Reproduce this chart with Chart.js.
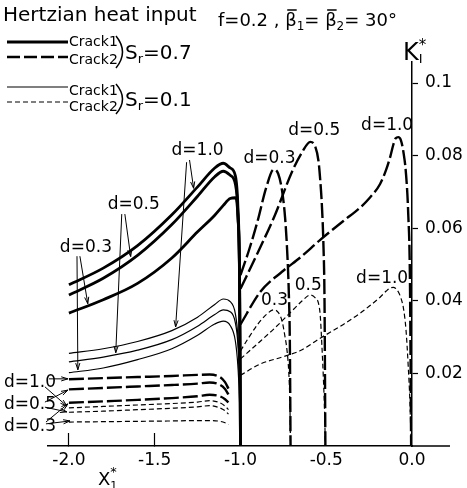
<!DOCTYPE html>
<html>
<head>
<meta charset="utf-8">
<script src="https://cdn.jsdelivr.net/npm/chart.js@4.4.1/dist/chart.umd.min.js"></script>
<style>
  html, body { margin: 0; padding: 0; background: #fff; }
  canvas { display: block; }
</style>
</head>
<body>
<canvas id="kChart" width="467" height="488"></canvas>
<script>
// axis ticks
const xTicks = [-2.0, -1.5, -1.0, -0.5, 0.0];
const xTickLabels = ['-2.0', '-1.5', '-1.0', '-0.5', '0.0'];
const yTicks = [0.02, 0.04, 0.06, 0.08, 0.1];
const yTickLabels = ['0.02', '0.04', '0.06', '0.08', '0.1'];

// Crack 1 (heat source left of crack 1, x* < -1)
const crack1X = [-2.0, -1.8, -1.6, -1.4, -1.25, -1.15, -1.1, -1.06, -1.03, -1.015, -1.005, -1.0];
const c1Sr07d10 = [0.0444, 0.0490, 0.0552, 0.0637, 0.0714, 0.0766, 0.0779, 0.0766, 0.0745, 0.0660, 0.0450, 0];
const c1Sr07d05 = [0.0416, 0.0462, 0.0525, 0.0610, 0.0688, 0.0742, 0.0757, 0.0746, 0.0722, 0.0640, 0.0440, 0];
const c1Sr07d03 = [0.0366, 0.0403, 0.0448, 0.0518, 0.0590, 0.0636, 0.0663, 0.0682, 0.0684, 0.0630, 0.0450, 0];
const c1Sr01d10 = [0.0255, 0.0268, 0.0288, 0.0318, 0.0355, 0.0390, 0.0405, 0.0398, 0.0365, 0.0300, 0.0180, 0];
const c1Sr01d05 = [0.0232, 0.0245, 0.0264, 0.0293, 0.0330, 0.0362, 0.0375, 0.0370, 0.0340, 0.0280, 0.0170, 0];
const c1Sr01d03 = [0.0202, 0.0215, 0.0238, 0.0268, 0.0305, 0.0336, 0.0344, 0.0332, 0.0290, 0.0220, 0.0120, 0];

// Crack 2, source left of crack 1
const crack2LeftX = [-2.0, -1.8, -1.6, -1.4, -1.25, -1.18, -1.12, -1.09, -1.07];
const c2LSr07d10 = [0.0184, 0.0187, 0.0190, 0.0193, 0.0196, 0.0197, 0.0190, 0.0176, 0.0158];
const c2LSr07d05 = [0.0156, 0.0160, 0.0164, 0.0168, 0.0172, 0.0175, 0.0169, 0.0157, 0.0142];
const c2LSr07d03 = [0.0119, 0.0123, 0.0127, 0.0132, 0.0137, 0.0141, 0.0137, 0.0129, 0.0120];
const c2LSr01d10 = [0.0105, 0.0109, 0.0113, 0.0117, 0.0121, 0.0125, 0.0119, 0.0110, 0.0100];
const c2LSr01d05 = [0.0093, 0.0096, 0.0100, 0.0104, 0.0108, 0.0111, 0.0105, 0.0097, 0.0088];
const c2LSr01d03 = [0.0066, 0.0067, 0.0068, 0.0069, 0.0070, 0.0070, 0.0068, 0.0064, 0.0059];

// Crack 2, source between the cracks
const c2d03X = [-1.0, -0.95, -0.9, -0.85, -0.806, -0.78, -0.758, -0.74, -0.729, -0.718, -0.712, -0.708];
const c2RSr07d03 = [0.0471, 0.0540, 0.0620, 0.0712, 0.0762, 0.0750, 0.0705, 0.0630, 0.0549, 0.0420, 0.0280, 0];
const c2RSr01d03 = [0.0262, 0.0300, 0.0335, 0.0362, 0.0375, 0.0368, 0.0345, 0.0300, 0.0265, 0.0200, 0.0120, 0];

const c2d05X = [-1.0, -0.9, -0.8, -0.7, -0.64, -0.593, -0.564, -0.545, -0.535, -0.525, -0.516, -0.51, -0.505];
const c2RSr07d05 = [0.0433, 0.0532, 0.0635, 0.0755, 0.0810, 0.0838, 0.0825, 0.0785, 0.0733, 0.0660, 0.0549, 0.0400, 0];
const c2RSr01d05 = [0.0240, 0.0282, 0.0325, 0.0372, 0.0400, 0.0416, 0.0408, 0.0393, 0.0360, 0.0274, 0.0180, 0.0100, 0];

const c2d10X = [-1.0, -0.884, -0.758, -0.65, -0.535, -0.4, -0.302, -0.25, -0.186, -0.15, -0.125, -0.109, -0.095, -0.08, -0.065, -0.05, -0.035, -0.022, -0.012, -0.005];
const c2RSr07d10 = [0.0335, 0.0425, 0.0480, 0.0520, 0.0568, 0.0620, 0.0657, 0.0682, 0.0722, 0.0762, 0.0800, 0.0830, 0.0848, 0.0851, 0.0843, 0.0810, 0.0750, 0.0640, 0.0457, 0];
const c2RSr01d10 = [0.0195, 0.0226, 0.0245, 0.0263, 0.0297, 0.0335, 0.0366, 0.0385, 0.0410, 0.0427, 0.0436, 0.0437, 0.0434, 0.0425, 0.0408, 0.0380, 0.0320, 0.0220, 0.0120, 0];

// line styles
const thickSolid = { borderColor: '#000', borderWidth: 2.8 };
const thickDash = { borderColor: '#000', borderWidth: 2.4, borderDash: [15, 4] };
const thinSolid = { borderColor: '#000', borderWidth: 1.2 };
const thinDash = { borderColor: '#000', borderWidth: 1.2, borderDash: [5, 3] };

const FONT = '"DejaVu Sans"';

function curve(xs, ys, style) {
    return Object.assign({
        data: xs.map((x, i) => ({ x: x, y: ys[i] })),
        pointRadius: 0,
        fill: false,
        cubicInterpolationMode: 'monotone'
    }, style);
}

// draw text made of pieces: [text, size, dy]
function runs(c, x, y, parts) {
    c.textAlign = 'left';
    c.textBaseline = 'alphabetic';
    parts.forEach(p => {
        c.font = p[1] + 'px ' + FONT;
        c.fillText(p[0], x, y + (p[2] || 0));
        x += c.measureText(p[0]).width;
    });
    return x;
}

function arrow(c, x1, y1, x2, y2) {
    c.beginPath();
    c.moveTo(x1, y1);
    c.lineTo(x2, y2);
    const a = Math.atan2(y2 - y1, x2 - x1);
    const h = 7;
    c.moveTo(x2, y2);
    c.lineTo(x2 - h * Math.cos(a - 0.3), y2 - h * Math.sin(a - 0.3));
    c.moveTo(x2, y2);
    c.lineTo(x2 - h * Math.cos(a + 0.3), y2 - h * Math.sin(a + 0.3));
    c.stroke();
}

const notes = {
    id: 'notes',
    afterDraw(chart) {
        const c = chart.ctx;
        const area = chart.chartArea;
        const xs = chart.scales.x, ys = chart.scales.y;
        const P = (x, y) => [xs.getPixelForValue(x), ys.getPixelForValue(y)];
        c.save();
        c.strokeStyle = '#000';
        c.fillStyle = '#000';

        // x axis continues a bit past the K axis
        c.lineWidth = 1.5;
        c.beginPath();
        c.moveTo(area.right, area.bottom);
        c.lineTo(area.right + 38, area.bottom);
        c.stroke();

        // legend
        c.lineWidth = 2.8;
        c.beginPath(); c.moveTo(7, 42); c.lineTo(68, 42); c.stroke();
        c.lineWidth = 2.4; c.setLineDash([13, 4]);
        c.beginPath(); c.moveTo(7, 57); c.lineTo(68, 57); c.stroke();
        c.setLineDash([]); c.lineWidth = 1.2;
        c.beginPath(); c.moveTo(7, 87); c.lineTo(68, 87); c.stroke();
        c.setLineDash([5, 3]);
        c.beginPath(); c.moveTo(7, 102); c.lineTo(68, 102); c.stroke();
        c.setLineDash([]);
        runs(c, 69, 46, [['Crack1', 14]]);
        runs(c, 69, 64, [['Crack2', 14]]);
        runs(c, 69, 95, [['Crack1', 14]]);
        runs(c, 69, 111, [['Crack2', 14]]);
        c.lineWidth = 1.5;
        c.beginPath(); c.moveTo(116, 36); c.quadraticCurveTo(129, 52, 116, 68); c.stroke();
        c.beginPath(); c.moveTo(116, 84); c.quadraticCurveTo(129, 99, 116, 114); c.stroke();
        runs(c, 125, 59, [['S', 20], ['r', 13, 4], ['=0.7', 20]]);
        runs(c, 125, 106, [['S', 20], ['r', 13, 4], ['=0.1', 20]]);

        // titles
        runs(c, 3, 21, [['Hertzian heat input', 20]]);
        let x = runs(c, 218, 26, [['f=0.2 , ', 18]]);
        c.font = '18px ' + FONT;
        let bw = c.measureText('β').width;
        c.beginPath(); c.moveTo(x + 2, 10); c.lineTo(x + bw, 10); c.stroke();
        x = runs(c, x, 26, [['β', 18], ['1', 12, 4], ['= ', 18]]);
        c.beginPath(); c.moveTo(x + 2, 10); c.lineTo(x + bw, 10); c.stroke();
        runs(c, x, 26, [['β', 18], ['2', 12, 4], ['= 30°', 18]]);

        // axis names
        x = runs(c, 403, 60, [['K', 24]]);
        runs(c, x, 63, [['I', 13]]);
        runs(c, x, 50, [['*', 15]]);
        x = runs(c, 98, 485, [['X', 18]]);
        runs(c, x, 489, [['1', 11]]);
        runs(c, x, 476, [['*', 13]]);

        // curve labels
        c.font = '17px ' + FONT;
        c.textAlign = 'center';
        c.textBaseline = 'middle';
        const label = (t, x, y) => { const p = P(x, y); c.fillText(t, p[0], p[1]); };
        label('d=1.0', -1.25, 0.0815);
        label('d=0.5', -1.622, 0.0664);
        label('d=0.3', -1.901, 0.0548);
        label('d=0.3', -0.831, 0.0793);
        label('d=0.5', -0.570, 0.0868);
        label('d=1.0', -0.145, 0.0884);
        label('0.3', -0.802, 0.0402);
        label('0.5', -0.605, 0.0441);
        label('d=1.0', -0.174, 0.0460);
        c.textAlign = 'left';
        c.fillText('d=1.0', 4, 383);
        c.fillText('d=0.5', 4, 405);
        c.fillText('d=0.3', 4, 427);

        // arrows
        c.lineWidth = 1;
        const arr = (x1, y1, x2, y2) => { const a = P(x1, y1), b = P(x2, y2); arrow(c, a[0], a[1], b[0], b[1]); };
        arr(-1.297, 0.0788, -1.273, 0.0710);
        arr(-1.314, 0.0782, -1.378, 0.0328);
        arr(-1.674, 0.0639, -1.640, 0.0522);
        arr(-1.692, 0.0639, -1.727, 0.0257);
        arr(-1.936, 0.0523, -1.890, 0.0392);
        arr(-1.953, 0.0523, -1.948, 0.0210);
        arr(-2.116, 0.0185, -2.006, 0.0185);
        arr(-2.140, 0.0163, -2.012, 0.0110);
        arr(-2.140, 0.0121, -2.006, 0.0154);
        arr(-2.140, 0.0107, -2.012, 0.0094);
        arr(-2.134, 0.0066, -2.006, 0.0116);
        arr(-2.134, 0.0061, -1.994, 0.0069);
        c.restore();
    }
};

const datasets = [
    curve(crack1X, c1Sr01d10, thinSolid),
    curve(crack1X, c1Sr01d05, thinSolid),
    curve(crack1X, c1Sr01d03, thinSolid),
    curve(crack2LeftX, c2LSr01d10, thinDash),
    curve(crack2LeftX, c2LSr01d05, thinDash),
    curve(crack2LeftX, c2LSr01d03, thinDash),
    curve(c2d03X, c2RSr01d03, thinDash),
    curve(c2d05X, c2RSr01d05, thinDash),
    curve(c2d10X, c2RSr01d10, thinDash),
    curve(crack1X, c1Sr07d10, thickSolid),
    curve(crack1X, c1Sr07d05, thickSolid),
    curve(crack1X, c1Sr07d03, thickSolid),
    curve(crack2LeftX, c2LSr07d10, thickDash),
    curve(crack2LeftX, c2LSr07d05, thickDash),
    curve(crack2LeftX, c2LSr07d03, thickDash),
    curve(c2d03X, c2RSr07d03, thickDash),
    curve(c2d05X, c2RSr07d05, thickDash),
    curve(c2d10X, c2RSr07d10, thickDash)
];

const kChart = new Chart(document.getElementById('kChart').getContext('2d'), {
    type: 'line',
    data: { datasets: datasets },
    options: {
        responsive: false,
        animation: false,
        layout: { padding: { left: 48, top: 62, right: 0, bottom: 0 } },
        plugins: { legend: { display: false }, tooltip: { enabled: false } },
        scales: {
            x: {
                type: 'linear',
                min: -2.122,
                max: 0,
                afterBuildTicks: s => { s.ticks = xTicks.map(v => ({ value: v })); },
                afterFit: s => { s.height = 42; },
                border: { display: true, color: '#000', width: 1.5 },
                grid: {
                    drawOnChartArea: false,
                    tickLength: -13,
                    tickWidth: 1.2,
                    tickColor: ctx => (ctx.tick && ctx.tick.value < -1.2 ? '#000' : 'rgba(0,0,0,0)')
                },
                ticks: {
                    color: '#000',
                    padding: 17,
                    maxRotation: 0,
                    font: { family: 'DejaVu Sans', size: 17 },
                    callback: (v, i) => xTickLabels[i]
                }
            },
            y: {
                position: 'right',
                min: 0,
                max: 0.1058,
                afterBuildTicks: s => { s.ticks = yTicks.map(v => ({ value: v })); },
                afterFit: s => { s.width = 55; },
                border: { display: true, color: '#000', width: 1.5 },
                grid: { drawOnChartArea: false, tickLength: 6, tickWidth: 1.2, tickColor: '#000' },
                ticks: {
                    color: '#000',
                    padding: 7,
                    font: { family: 'DejaVu Sans', size: 17 },
                    callback: (v, i) => yTickLabels[i]
                }
            }
        }
    },
    plugins: [notes]
});
</script>
</body>
</html>
